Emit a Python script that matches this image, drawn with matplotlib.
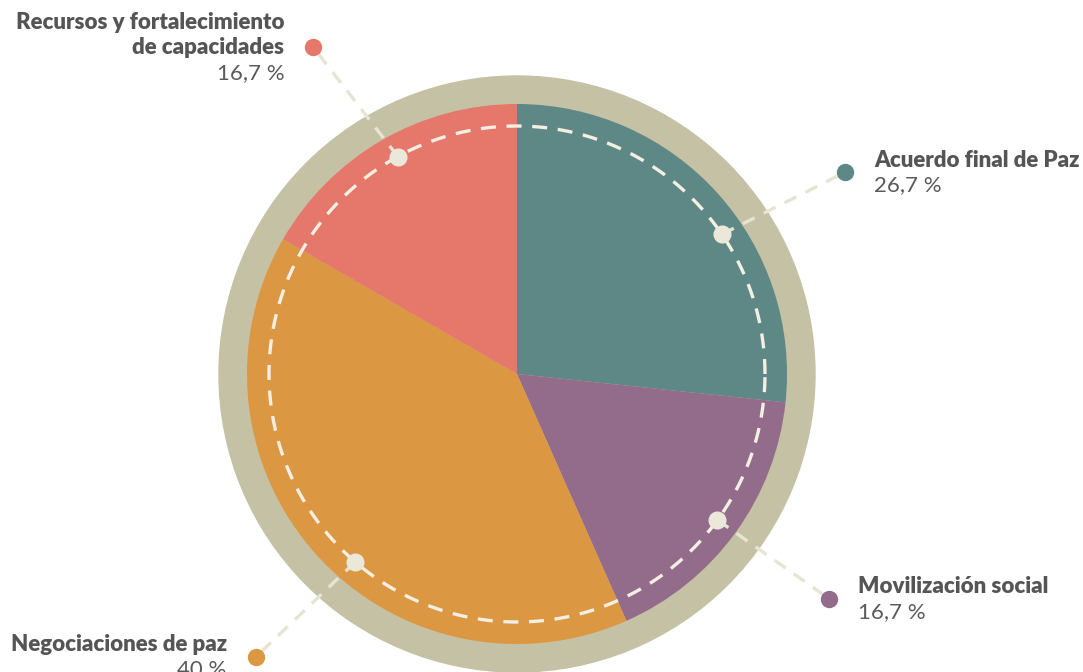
import numpy as np
import matplotlib
matplotlib.use("Agg")
import matplotlib.pyplot as plt
from matplotlib.patches import Circle

# ---- data ----
categories = ["Acuerdo final de Paz", "Movilización social", "Negociaciones de paz",
              "Recursos y fortalecimiento\nde capacidades"]
values = [26.7, 16.7, 40.0, 16.7]
pct_labels = ["26,7 %", "16,7 %", "40 %", "16,7 %"]
colors = ["#5e8886", "#936b8b", "#dc9742", "#e5776b"]

# ---- layout ----
W, H = 1083, 672
cx, cy = 517, H - 374
r_ring, r_pie, r_dash, r_end = 298, 270, 248, 385
inner_shift = [-7.7, 0.0, 7.3, -1.3]    # label anchor tweak (degrees)
outer_shift = [-10.4, 0.3, 5.3, 1.9]

fig = plt.figure(figsize=(W / 100, H / 100), dpi=100)
ax = fig.add_axes([0, 0, 1, 1])

ax.add_patch(Circle((cx, cy), r_ring, color="#c5c1a4", zorder=1))
wedges, _ = ax.pie(values, colors=colors, startangle=90, counterclock=False,
                   radius=r_pie, center=(cx, cy), frame=True,
                   wedgeprops=dict(linewidth=0))
for w in wedges:
    w.set_zorder(2)
ax.set_xlim(0, W)
ax.set_ylim(0, H)
ax.set_aspect("equal")
ax.axis("off")

t = np.linspace(0, 2 * np.pi, 400)
ax.plot(cx + r_dash * np.cos(t), cy + r_dash * np.sin(t), color="#f3efe2",
        lw=2.4, dashes=(4.5, 3.2), zorder=3)

line_col = "#e6e4d2"
total = sum(values)
start = 90.0
lh = 25.5
for i, (cat, v, p, c) in enumerate(zip(categories, values, pct_labels, colors)):
    mid = start - v / total * 360 / 2
    start -= v / total * 360
    a1 = np.deg2rad(mid + inner_shift[i])
    a2 = np.deg2rad(mid + outer_shift[i])
    x1, y1 = cx + r_dash * np.cos(a1), cy + r_dash * np.sin(a1)
    x2, y2 = cx + r_end * np.cos(a2), cy + r_end * np.sin(a2)
    ax.plot([x1, x2], [y1, y2], color=line_col, lw=2.4, dashes=(4, 3), zorder=4)
    ax.plot(x1, y1, "o", ms=12, color="#ebe8da", zorder=5)
    ax.plot(x2, y2, "o", ms=11.5, color=c, zorder=5)
    right = np.cos(a2) > 0
    ha = "left" if right else "right"
    tx = x2 + (29 if right else -29)
    lines = cat.split("\n")
    n = len(lines) + 1
    for k, ln in enumerate(lines + [p]):
        yk = y2 + 1.5 + lh * ((n - 1) / 2 - k)
        is_pct = k == n - 1
        ax.text(tx, yk, ln, ha=ha, va="center_baseline", fontsize=16,
                fontweight="normal" if is_pct else "heavy", family="Lato",
                color="#5a5a5a" if is_pct else "#555555", zorder=6)

fig.savefig("out.png", dpi=100)
